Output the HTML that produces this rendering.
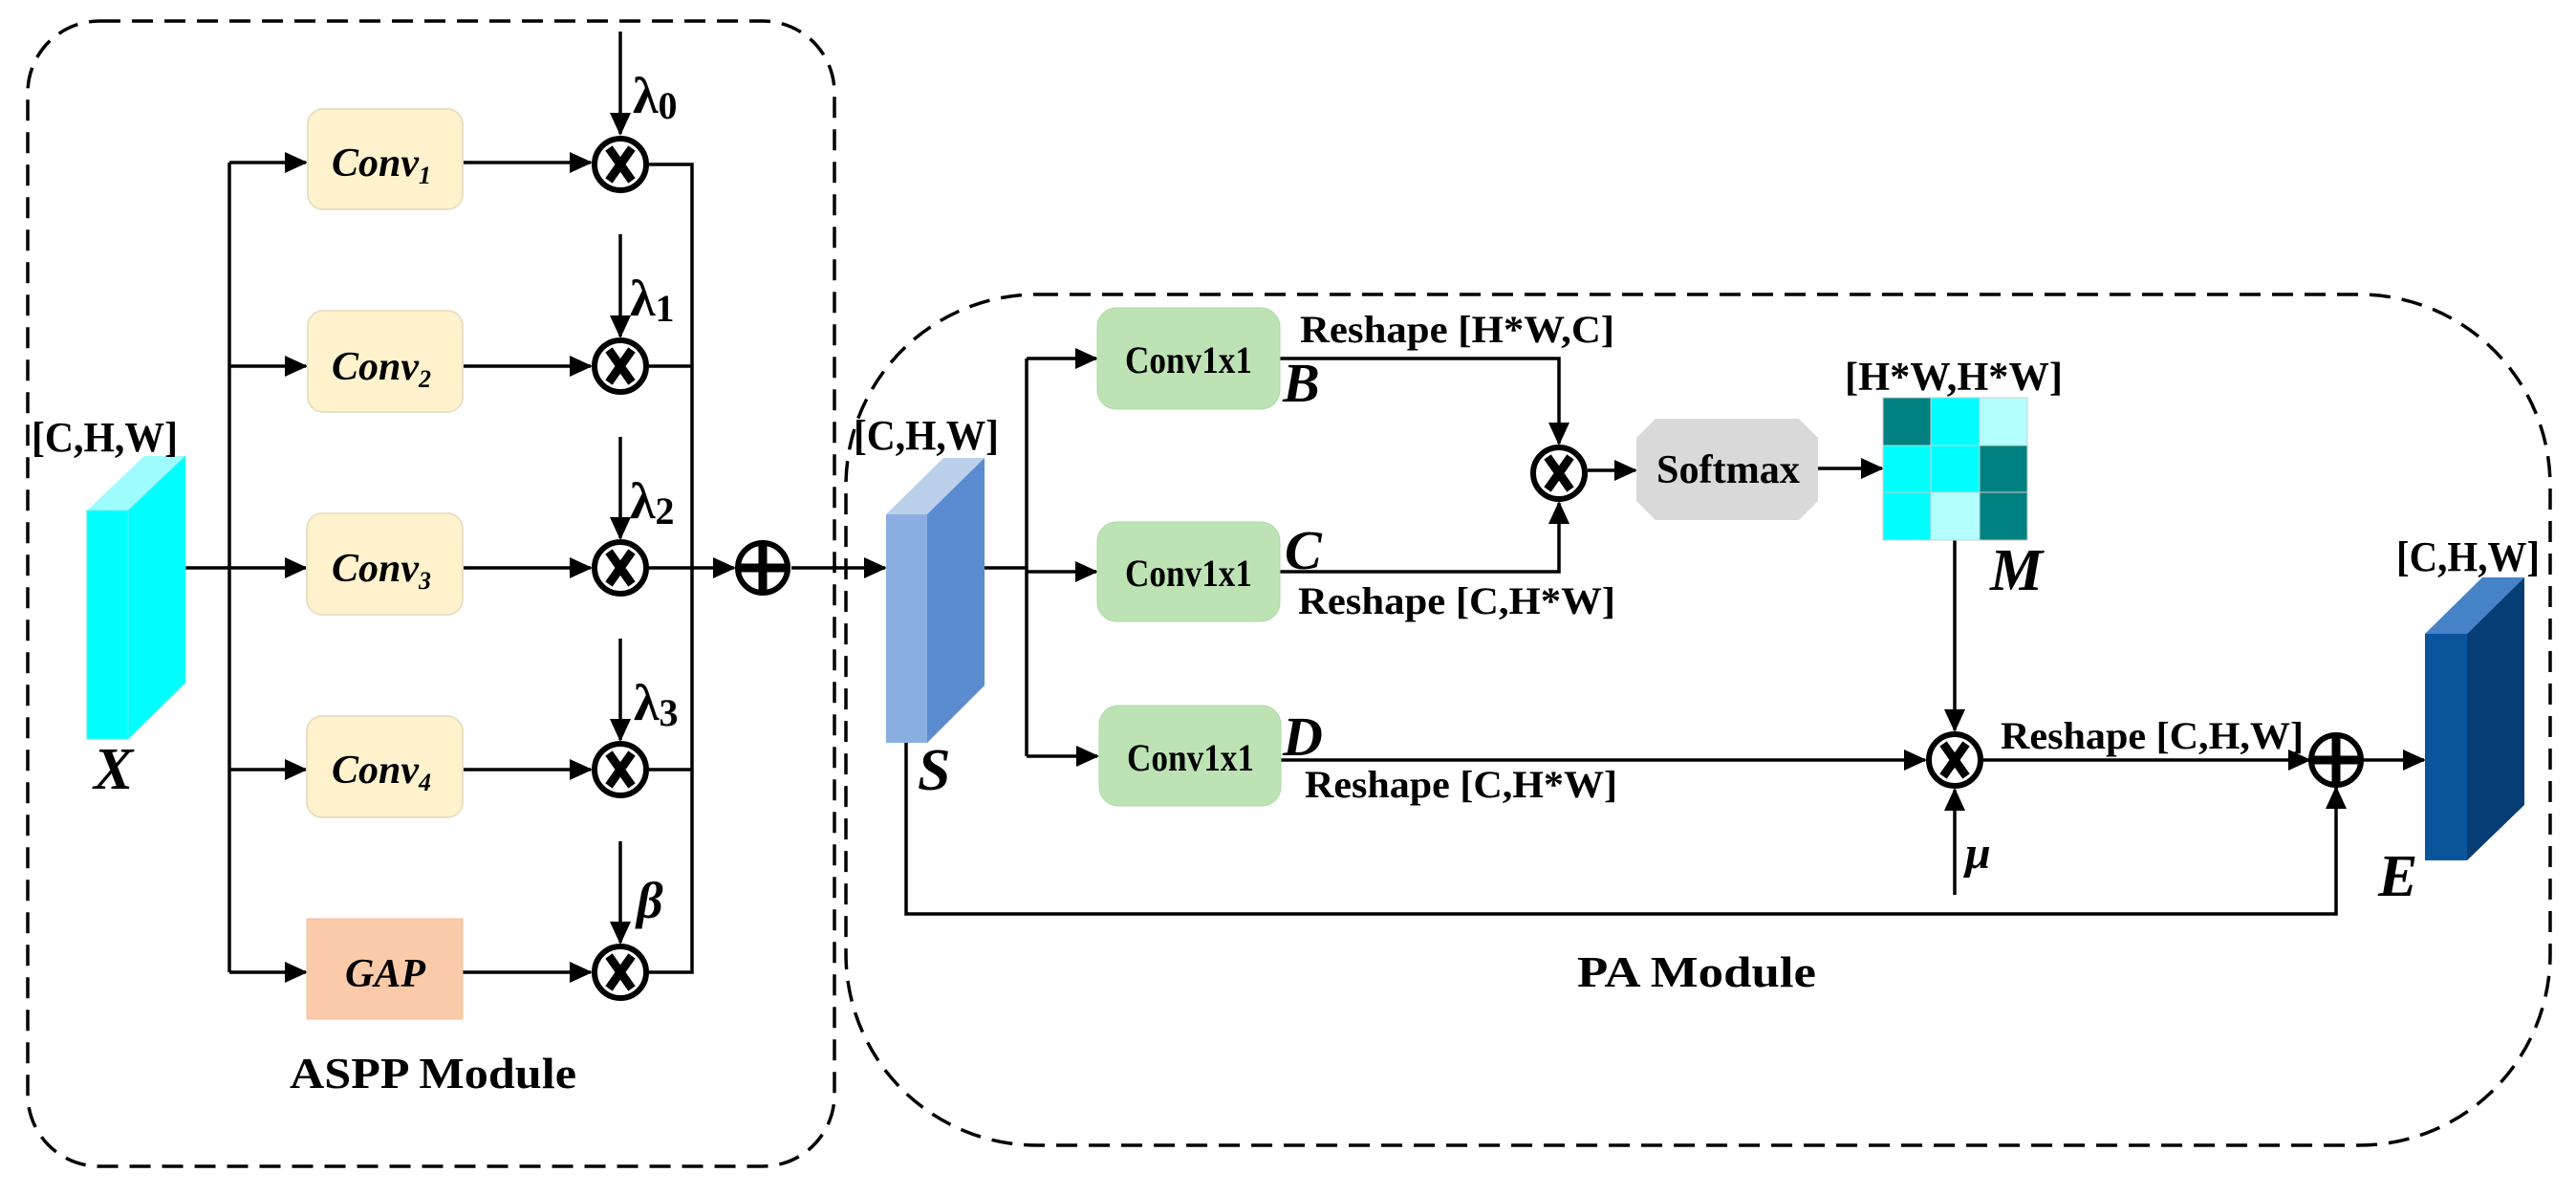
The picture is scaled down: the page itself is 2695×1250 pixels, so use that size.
<!DOCTYPE html>
<html><head><meta charset="utf-8"><style>
html,body{margin:0;padding:0;background:#fff;}
svg{display:block;}
text{font-family:"Liberation Serif","Times New Roman",serif;font-weight:bold;fill:#000;}
.it{font-style:italic;}
</style></head><body>
<svg width="2695" height="1250" viewBox="0 0 2695 1250" xmlns="http://www.w3.org/2000/svg">
<defs>
<marker id="a" markerUnits="userSpaceOnUse" markerWidth="24" markerHeight="22" refX="22" refY="11" orient="auto">
<path d="M0,0 L24,11 L0,22 Z" fill="#000"/></marker>
</defs>
<rect width="2695" height="1250" fill="#fff"/>
<rect x="29" y="22" width="844" height="1198" rx="75" fill="none" stroke="#000" stroke-width="3.5" stroke-dasharray="22,12"/>
<rect x="885" y="308" width="1783" height="890" rx="200" fill="none" stroke="#000" stroke-width="3.5" stroke-dasharray="22,12"/>

<g stroke="#000" stroke-width="3.5" fill="none">
<line x1="194" y1="594" x2="240" y2="594"/>
<line x1="240" y1="170" x2="240" y2="1017"/>
<line x1="240" y1="170" x2="320" y2="170" marker-end="url(#a)"/>
<line x1="240" y1="383" x2="320" y2="383" marker-end="url(#a)"/>
<line x1="240" y1="594" x2="320" y2="594" marker-end="url(#a)"/>
<line x1="240" y1="805" x2="320" y2="805" marker-end="url(#a)"/>
<line x1="240" y1="1017" x2="320" y2="1017" marker-end="url(#a)"/>
<line x1="484" y1="170" x2="618" y2="170" marker-end="url(#a)"/>
<line x1="484" y1="383" x2="618" y2="383" marker-end="url(#a)"/>
<line x1="484" y1="594" x2="618" y2="594" marker-end="url(#a)"/>
<line x1="484" y1="805" x2="618" y2="805" marker-end="url(#a)"/>
<line x1="484" y1="1017" x2="618" y2="1017" marker-end="url(#a)"/>
<line x1="649" y1="33" x2="649" y2="140" marker-end="url(#a)"/>
<line x1="649" y1="245" x2="649" y2="352" marker-end="url(#a)"/>
<line x1="649" y1="457" x2="649" y2="563" marker-end="url(#a)"/>
<line x1="649" y1="668" x2="649" y2="774" marker-end="url(#a)"/>
<line x1="649" y1="880" x2="649" y2="986" marker-end="url(#a)"/>
<polyline points="679,172 724,172 724,1017 679,1017"/>
<line x1="679" y1="383" x2="724" y2="383"/>
<line x1="679" y1="805" x2="724" y2="805"/>
<line x1="679" y1="594" x2="768" y2="594" marker-end="url(#a)"/>
<line x1="828" y1="594" x2="926" y2="594" marker-end="url(#a)"/>
<line x1="1030" y1="594" x2="1074" y2="594"/>
<line x1="1074" y1="375" x2="1074" y2="791"/>
<line x1="1074" y1="375" x2="1147" y2="375" marker-end="url(#a)"/>
<line x1="1074" y1="598" x2="1147" y2="598" marker-end="url(#a)"/>
<line x1="1074" y1="791" x2="1148" y2="791" marker-end="url(#a)"/>
<polyline points="1339,375 1631,375 1631,464" marker-end="url(#a)"/>
<polyline points="1339,598 1631,598 1631,526" marker-end="url(#a)"/>
<line x1="1661" y1="492" x2="1711" y2="492" marker-end="url(#a)"/>
<line x1="1902" y1="490" x2="1969" y2="490" marker-end="url(#a)"/>
<line x1="2045" y1="565" x2="2045" y2="764" marker-end="url(#a)"/>
<line x1="1340" y1="795" x2="2014" y2="795" marker-end="url(#a)"/>
<line x1="2045" y1="936" x2="2045" y2="826" marker-end="url(#a)"/>
<line x1="2075" y1="795" x2="2416" y2="795" marker-end="url(#a)"/>
<polyline points="948,777 948,956 2444,956 2444,824" marker-end="url(#a)"/>
<line x1="2472" y1="795" x2="2536" y2="795" marker-end="url(#a)"/>
</g>

<polygon points="91,534 134,534 194,477 151,477" fill="#9ffcfc"/>
<polygon points="134,534 194,477 194,714 134,773" fill="#00ffff" stroke="#5ee" stroke-width="1"/>
<rect x="91" y="534" width="43" height="239" fill="#00ffff" stroke="#5ee" stroke-width="1"/>
<text x="33" y="472" font-size="44" textLength="153" lengthAdjust="spacingAndGlyphs">[C,H,W]</text>
<text class="it" x="98" y="825" font-size="62">X</text>

<g fill="#fff2cc" stroke="#eadfc4" stroke-width="2">
<rect x="322" y="114" width="162" height="105" rx="16"/>
<rect x="322" y="325" width="162" height="106" rx="16"/>
<rect x="321" y="537" width="163" height="106" rx="16"/>
<rect x="321" y="749" width="163" height="106" rx="16"/>
</g>
<rect x="321" y="961" width="163" height="105" fill="#fbcaa9" stroke="#f0bfa0" stroke-width="1"/>
<g font-size="42" text-anchor="middle">
<text class="it" x="399" y="184">Conv<tspan font-size="26" dy="8">1</tspan></text>
<text class="it" x="399" y="397">Conv<tspan font-size="26" dy="8">2</tspan></text>
<text class="it" x="399" y="608">Conv<tspan font-size="26" dy="8">3</tspan></text>
<text class="it" x="399" y="819">Conv<tspan font-size="26" dy="8">4</tspan></text>
<text class="it" x="403" y="1032">GAP</text>
</g>
<g font-size="54">
<text x="662" y="118">λ<tspan font-size="40" dy="6">0</tspan></text>
<text x="659" y="330">λ<tspan font-size="40" dy="6">1</tspan></text>
<text x="659" y="542">λ<tspan font-size="40" dy="6">2</tspan></text>
<text x="663" y="753">λ<tspan font-size="40" dy="6">3</tspan></text>
<text class="it" x="666" y="960">β</text>
</g>
<text x="303" y="1138" font-size="46" textLength="300" lengthAdjust="spacingAndGlyphs">ASPP Module</text>

<g stroke="#000" fill="#fff" stroke-width="6">
<circle cx="649" cy="172" r="27"/><circle cx="649" cy="383" r="27"/><circle cx="649" cy="594" r="27"/><circle cx="649" cy="805" r="27"/><circle cx="649" cy="1017" r="27"/>
<circle cx="1631" cy="495" r="27"/><circle cx="2045" cy="795" r="27"/>
<circle cx="798" cy="594" r="26"/><circle cx="2444" cy="795" r="26"/>
</g>
<g stroke="#000" stroke-width="9">
<path d="M637,155 L661,189 M661,155 L637,189"/>
<path d="M637,366 L661,400 M661,366 L637,400"/>
<path d="M637,577 L661,611 M661,577 L637,611"/>
<path d="M637,788 L661,822 M661,788 L637,822"/>
<path d="M637,1000 L661,1034 M661,1000 L637,1034"/>
<path d="M1619,478 L1643,512 M1643,478 L1619,512"/>
<path d="M2033,778 L2057,812 M2057,778 L2033,812"/>
<path d="M798,570 L798,618 M774,594 L822,594"/>
<path d="M2444,771 L2444,819 M2420,795 L2468,795"/>
</g>

<polygon points="927,538 970,538 1030,479 987,479" fill="#bcd0ec"/>
<polygon points="970,538 1030,479 1030,717 970,777" fill="#5a8ccf"/>
<rect x="927" y="538" width="43" height="239" fill="#8aaee0"/>
<text x="893" y="470" font-size="44" textLength="152" lengthAdjust="spacingAndGlyphs">[C,H,W]</text>
<text class="it" x="960" y="826" font-size="62">S</text>

<g fill="#bde3b5" stroke="#b0d8a8" stroke-width="1">
<rect x="1148" y="322" width="191" height="106" rx="20"/>
<rect x="1148" y="546" width="191" height="104" rx="20"/>
<rect x="1150" y="738" width="190" height="105" rx="20"/>
</g>
<g font-size="40">
<text x="1177" y="390" textLength="133" lengthAdjust="spacingAndGlyphs">Conv1x1</text>
<text x="1177" y="613" textLength="133" lengthAdjust="spacingAndGlyphs">Conv1x1</text>
<text x="1179" y="806" textLength="133" lengthAdjust="spacingAndGlyphs">Conv1x1</text>
</g>
<g font-size="58">
<text class="it" x="1342" y="420">B</text>
<text class="it" x="1344" y="595">C</text>
<text class="it" x="1342" y="790">D</text>
</g>
<g font-size="40">
<text x="1360" y="358" textLength="329" lengthAdjust="spacingAndGlyphs">Reshape [H*W,C]</text>
<text x="1358" y="642" textLength="332" lengthAdjust="spacingAndGlyphs">Reshape [C,H*W]</text>
<text x="1365" y="834" textLength="327" lengthAdjust="spacingAndGlyphs">Reshape [C,H*W]</text>
<text x="2093" y="783" textLength="317" lengthAdjust="spacingAndGlyphs">Reshape [C,H,W]</text>
</g>

<polygon points="1732,438 1882,438 1902,458 1902,524 1882,544 1732,544 1712,524 1712,458" fill="#d9d9d9"/>
<text x="1733" y="505" font-size="42" textLength="150" lengthAdjust="spacingAndGlyphs">Softmax</text>

<g stroke="#ccc" stroke-width="1">
<rect x="1970" y="416" width="50" height="50" fill="#008080"/>
<rect x="2020" y="416" width="51" height="50" fill="#00ffff"/>
<rect x="2071" y="416" width="50" height="50" fill="#b3ffff"/>
<rect x="1970" y="466" width="50" height="49" fill="#00ffff"/>
<rect x="2020" y="466" width="51" height="49" fill="#00ffff"/>
<rect x="2071" y="466" width="50" height="49" fill="#008080"/>
<rect x="1970" y="515" width="50" height="50" fill="#00ffff"/>
<rect x="2020" y="515" width="51" height="50" fill="#b3ffff"/>
<rect x="2071" y="515" width="50" height="50" fill="#008080"/>
</g>
<text x="1930" y="408" font-size="42" textLength="228" lengthAdjust="spacingAndGlyphs">[H*W,H*W]</text>
<text class="it" x="2082" y="617" font-size="62">M</text>
<text class="it" x="2056" y="908" font-size="48">μ</text>

<polygon points="2537,663 2581,663 2641,604 2597,604" fill="#4682c8"/>
<polygon points="2581,663 2641,604 2641,842 2581,900" fill="#063d75"/>
<rect x="2537" y="663" width="44" height="237" fill="#0b539b"/>
<text x="2507" y="597" font-size="44" textLength="150" lengthAdjust="spacingAndGlyphs">[C,H,W]</text>
<text class="it" x="2488" y="937" font-size="62">E</text>

<text x="1650" y="1032" font-size="46" textLength="250" lengthAdjust="spacingAndGlyphs">PA Module</text>
</svg>
</body></html>
